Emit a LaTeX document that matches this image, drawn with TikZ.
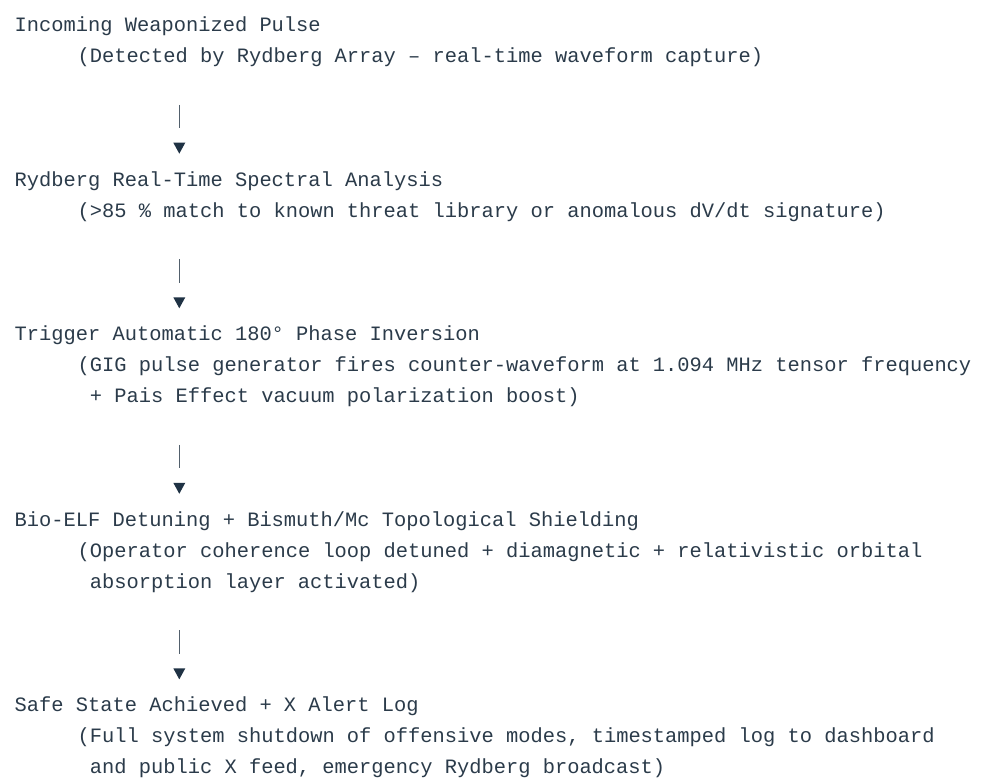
\documentclass[tikz,border=0pt]{standalone}
\usepackage{fontspec}
\usetikzlibrary{calc}
\setmonofont{Liberation Mono}
\definecolor{txtc}{HTML}{2B3B4A}
\definecolor{barc}{HTML}{52606C}
\definecolor{tric}{HTML}{1F3244}
\tikzset{
  line/.style={text=txtc, inner sep=0pt, anchor=base west,
    font=\fontsize{20.4}{30.92}\selectfont\ttfamily},
  bar/.style={draw=barc, line width=1.3pt},
  tri/.style={fill=tric}
}
\newcommand{\LY}[1]{-31.5pt-30.92pt*(#1)}
\begin{document}
\begin{tikzpicture}[x=1pt,y=1pt]
\useasboundingbox[fill=white] (0,0) rectangle (1003,-783);
% block 0
\node[line] (t0) at (14.5,{\LY{0}}) {Incoming Weaponized Pulse};
\node[line] (d0) at (77.5,{\LY{1}}) {(Detected by Rydberg Array – real-time waveform capture)};
% block 1
\node[line] (t1) at (14.5,{\LY{5}}) {Rydberg Real-Time Spectral Analysis};
\node[line] (d1) at (77.5,{\LY{6}}) {(>85 \% match to known threat library or anomalous dV/dt signature)};
% block 2
\node[line] (t2) at (14.5,{\LY{10}}) {Trigger Automatic 180° Phase Inversion};
\node[line] (d2) at (77.5,{\LY{11}}) {(GIG pulse generator fires counter-waveform at 1.094 MHz tensor frequency};
\node[line] (e2) at (89.7,{\LY{12}}) {+ Pais Effect vacuum polarization boost)};
% block 3
\node[line] (t3) at (14.5,{\LY{16}}) {Bio-ELF Detuning + Bismuth/Mc Topological Shielding};
\node[line] (d3) at (77.5,{\LY{17}}) {(Operator coherence loop detuned + diamagnetic + relativistic orbital};
\node[line] (e3) at (89.7,{\LY{18}}) {absorption layer activated)};
% block 4
\node[line] (t4) at (14.5,{\LY{22}}) {Safe State Achieved + X Alert Log};
\node[line] (d4) at (77.5,{\LY{23}}) {(Full system shutdown of offensive modes, timestamped log to dashboard};
\node[line] (e4) at (89.7,{\LY{24}}) {and public X feed, emergency Rydberg broadcast)};
% arrows
\foreach \i/\L in {a/3,b/8,c/14,d/20}{
  \coordinate (\i top) at (179.3,{\LY{\L}+19.5pt});
  \coordinate (\i bot) at (179.3,{\LY{\L}-4pt});
  \coordinate (\i tip) at (179.3,{\LY{\L+1}+1.5pt});
  \draw[bar] (\i top) -- (\i bot);
  \fill[tri] ($(\i tip)+(-6,11)$) -- ($(\i tip)+(6,11)$) -- (\i tip) -- cycle;
}
\end{tikzpicture}
\end{document}
